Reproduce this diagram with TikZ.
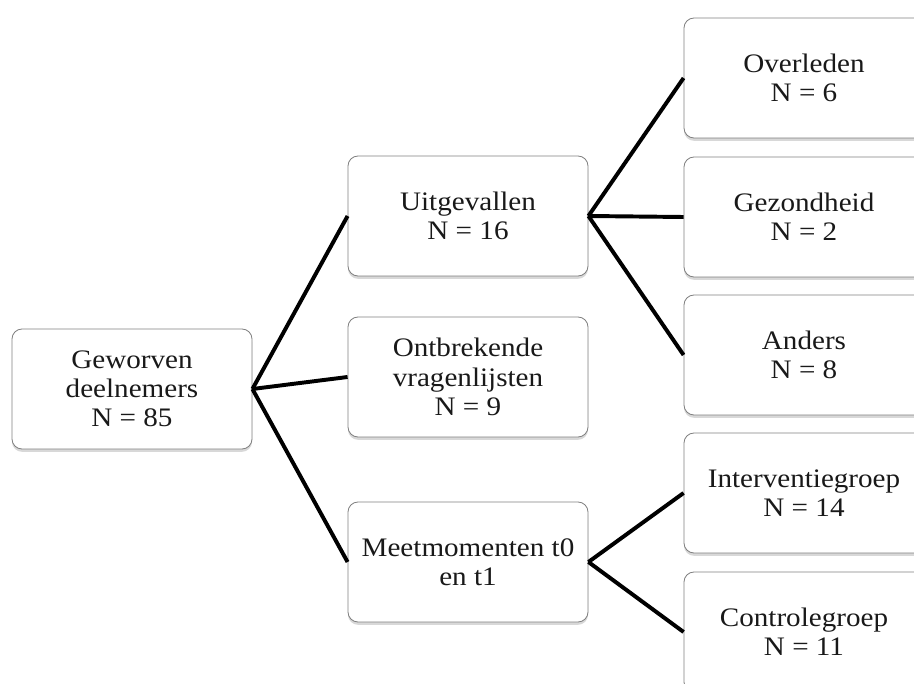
\documentclass[tikz,border=0pt]{standalone}
\usepackage{fontspec}
\setmainfont{Liberation Serif}
\newfontfamily\boxfont[FakeStretch=1.09]{Liberation Serif}
\usetikzlibrary{shadows}
\begin{document}
\begin{tikzpicture}[myv/.style={rectangle, rounded corners=0.25cm, draw=gray, line width=0.6pt, fill=white, minimum width=6cm, minimum height=3cm, inner sep=0pt, align=center, text=black!90, font=\boxfont\fontsize{19}{20.8}\selectfont, drop shadow={shadow xshift=0pt, shadow yshift=-2pt, opacity=0.3}},myl/.style={line width=2.8pt, black}]
  \useasboundingbox (0,0) rectangle (22.85,17.075);
  \fill[white] (0,0) rectangle (22.85,17.075);
  \clip (0,0) rectangle (22.85,17.075);

  \node[myv] (a) at (3.3,7.35) {Geworven\\deelnemers\\N = 85};

  \node[myv] (b) at (11.7,11.675) {Uitgevallen\\N = 16};
  \node[myv] (c) at (11.7,7.65) {Ontbrekende\\vragenlijsten\\N = 9};
  \node[myv] (d) at (11.7,3.025) {Meetmomenten t0\\en t1};

  \node[myv] (e) at (20.1,15.125) {Overleden\\N = 6};
  \node[myv] (f) at (20.1,11.65) {Gezondheid\\N = 2};
  \node[myv] (g) at (20.1,8.2) {Anders\\N = 8};
  \node[myv] (h) at (20.1,4.75) {Interventiegroep\\N = 14};
  \node[myv] (i) at (20.1,1.275) {Controlegroep\\N = 11};

    \draw[myl] (a.east) -- (b.west);
    \draw[myl] (a.east) -- (c.west);
    \draw[myl] (a.east) -- (d.west);
    \draw[myl] (b.east) -- (e.west);
    \draw[myl] (b.east) -- (f.west);
    \draw[myl] (b.east) -- (g.west);
    \draw[myl] (d.east) -- (h.west);
    \draw[myl] (d.east) -- (i.west);

\end{tikzpicture}
\end{document}
